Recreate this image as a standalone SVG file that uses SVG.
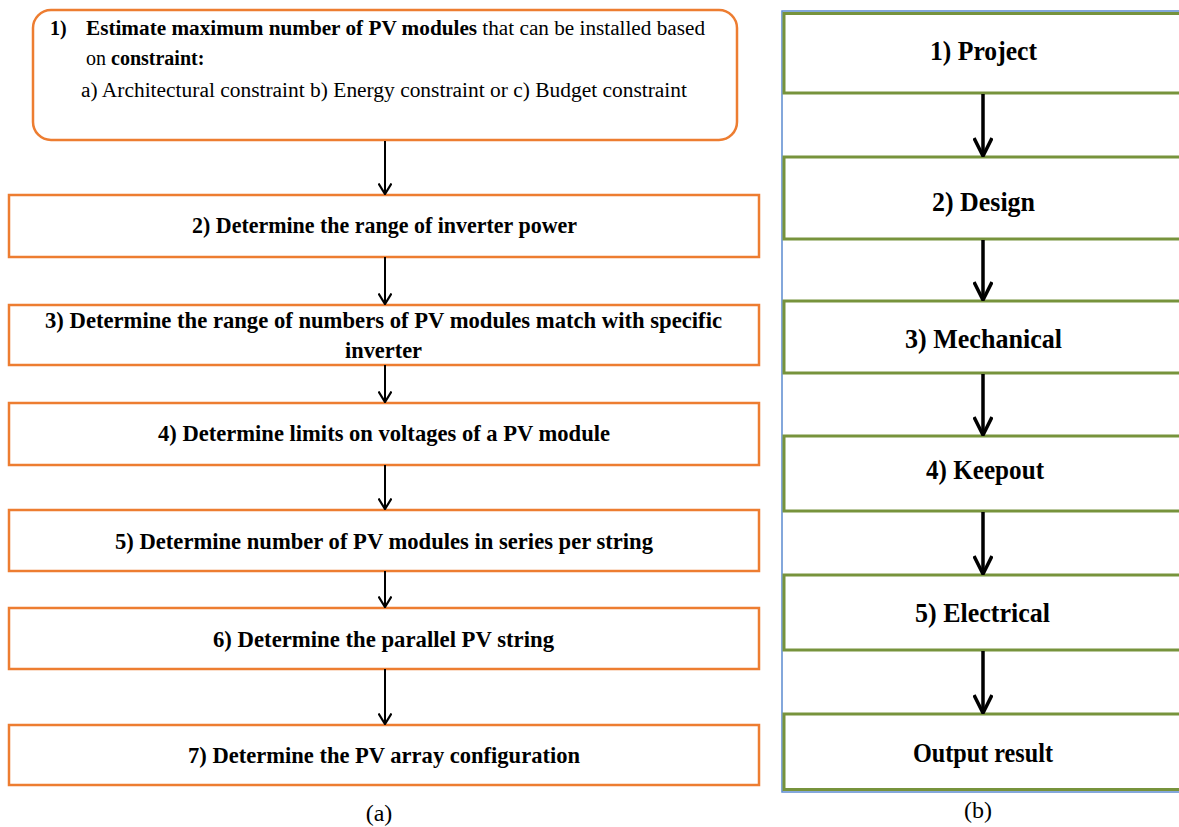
<svg xmlns="http://www.w3.org/2000/svg" width="1179" height="827" viewBox="0 0 1179 827">
<style>
.ob{fill:#fff;stroke:#ED7D31;stroke-width:2.5}
.gb{fill:#fff;stroke:#77933C;stroke-width:3}
text{font-family:"Liberation Serif","Times New Roman",serif;fill:#000}
.b{font-weight:bold}
.lt{font-size:23.5px;font-weight:bold;text-anchor:middle}
.rt{font-size:27px;font-weight:bold;text-anchor:middle}
.cap{font-size:24px;text-anchor:middle}
.la{stroke:#000;stroke-width:2;fill:none;marker-end:url(#ah1)}
.ra{stroke:#000;stroke-width:3.5;fill:none;marker-end:url(#ah2)}
</style>
<defs>
<marker id="ah1" viewBox="0 0 12 14" refX="11" refY="7" markerWidth="12" markerHeight="14" markerUnits="userSpaceOnUse" orient="auto">
<path d="M0.5,0.5 L11,7 L0.5,13.5" fill="none" stroke="#000" stroke-width="2.2"/>
</marker>
<marker id="ah2" viewBox="0 0 20 20" refX="19" refY="10" markerWidth="20" markerHeight="20" markerUnits="userSpaceOnUse" orient="auto">
<path d="M1,1 L19,10 L1,19" fill="none" stroke="#000" stroke-width="3.5"/>
</marker>
</defs>
<rect width="1179" height="827" fill="#fff"/>

<!-- Panel (a) -->
<g id="a1">
<rect class="ob" x="33" y="10" width="704" height="130" rx="18" ry="18"/>
<text class="b" x="50" y="35" font-size="20">1)</text>
<text x="86" y="35" font-size="20" textLength="619" lengthAdjust="spacingAndGlyphs"><tspan class="b">Estimate maximum number of PV modules</tspan> that can be installed based</text>
<text x="86" y="65" font-size="20">on <tspan class="b">constraint:</tspan></text>
<text x="81" y="97" font-size="20" textLength="606" lengthAdjust="spacingAndGlyphs">a) Architectural  constraint b) Energy constraint or c) Budget constraint</text>
</g>
<g id="a2">
<rect class="ob" x="9" y="195" width="750" height="62"/>
<text class="lt" x="384.5" y="233" textLength="385" lengthAdjust="spacingAndGlyphs">2) Determine the range of  inverter power</text>
</g>
<g id="a3">
<rect class="ob" x="9" y="305" width="750" height="60"/>
<text class="lt" x="383.5" y="328" textLength="677" lengthAdjust="spacingAndGlyphs">3) Determine the range of numbers of PV modules match with specific</text>
<text class="lt" x="383.5" y="358" textLength="77" lengthAdjust="spacingAndGlyphs">inverter</text>
</g>
<g id="a4">
<rect class="ob" x="9" y="403" width="750" height="62"/>
<text class="lt" x="384" y="441" textLength="452" lengthAdjust="spacingAndGlyphs">4) Determine limits on voltages of a PV module</text>
</g>
<g id="a5">
<rect class="ob" x="9" y="510" width="750" height="61"/>
<text class="lt" x="384" y="549" textLength="538" lengthAdjust="spacingAndGlyphs">5) Determine number of PV modules in series per string</text>
</g>
<g id="a6">
<rect class="ob" x="9" y="608" width="750" height="61"/>
<text class="lt" x="383.5" y="647" textLength="341" lengthAdjust="spacingAndGlyphs">6) Determine the parallel PV string</text>
</g>
<g id="a7">
<rect class="ob" x="9" y="725" width="750" height="60"/>
<text class="lt" x="384" y="763" textLength="392" lengthAdjust="spacingAndGlyphs">7) Determine the PV array configuration</text>
</g>
<text class="cap" x="379" y="821">(a)</text>

<!-- Panel (b) -->
<rect x="782" y="11" width="420" height="781" fill="none" stroke="#5B8BD0" stroke-width="1.5"/>
<g id="b1">
<rect class="gb" x="784" y="13.5" width="420" height="79.5"/>
<text class="rt" x="983.5" y="60" textLength="107" lengthAdjust="spacingAndGlyphs">1) Project</text>
</g>
<g id="b2">
<rect class="gb" x="784" y="157" width="420" height="82"/>
<text class="rt" x="983.5" y="211" textLength="103" lengthAdjust="spacingAndGlyphs">2) Design</text>
</g>
<g id="b3">
<rect class="gb" x="784" y="301" width="420" height="72"/>
<text class="rt" x="983.5" y="348" textLength="157" lengthAdjust="spacingAndGlyphs">3) Mechanical</text>
</g>
<g id="b4">
<rect class="gb" x="784" y="436" width="420" height="75"/>
<text class="rt" x="985" y="479" textLength="118" lengthAdjust="spacingAndGlyphs">4) Keepout</text>
</g>
<g id="b5">
<rect class="gb" x="784" y="575" width="420" height="75"/>
<text class="rt" x="982.5" y="622" textLength="135" lengthAdjust="spacingAndGlyphs">5) Electrical</text>
</g>
<g id="b6">
<rect class="gb" x="784" y="714" width="420" height="75.5"/>
<text class="rt" x="983" y="762" font-size="25" textLength="140" lengthAdjust="spacingAndGlyphs">Output result</text>
</g>
<text class="cap" x="978" y="818">(b)</text>

<g id="connectors">
<line class="la" x1="385" y1="141" x2="385" y2="194"/>
<line class="la" x1="385" y1="257" x2="385" y2="304"/>
<line class="la" x1="385" y1="365" x2="385" y2="402"/>
<line class="la" x1="385" y1="465" x2="385" y2="509"/>
<line class="la" x1="385" y1="571" x2="385" y2="607"/>
<line class="la" x1="385" y1="669" x2="385" y2="724"/>
<line class="ra" x1="983" y1="94" x2="983" y2="156"/>
<line class="ra" x1="983" y1="240" x2="983" y2="300"/>
<line class="ra" x1="983" y1="374" x2="983" y2="435"/>
<line class="ra" x1="983" y1="512" x2="983" y2="574"/>
<line class="ra" x1="983" y1="651" x2="983" y2="713"/>
</g>
</svg>
